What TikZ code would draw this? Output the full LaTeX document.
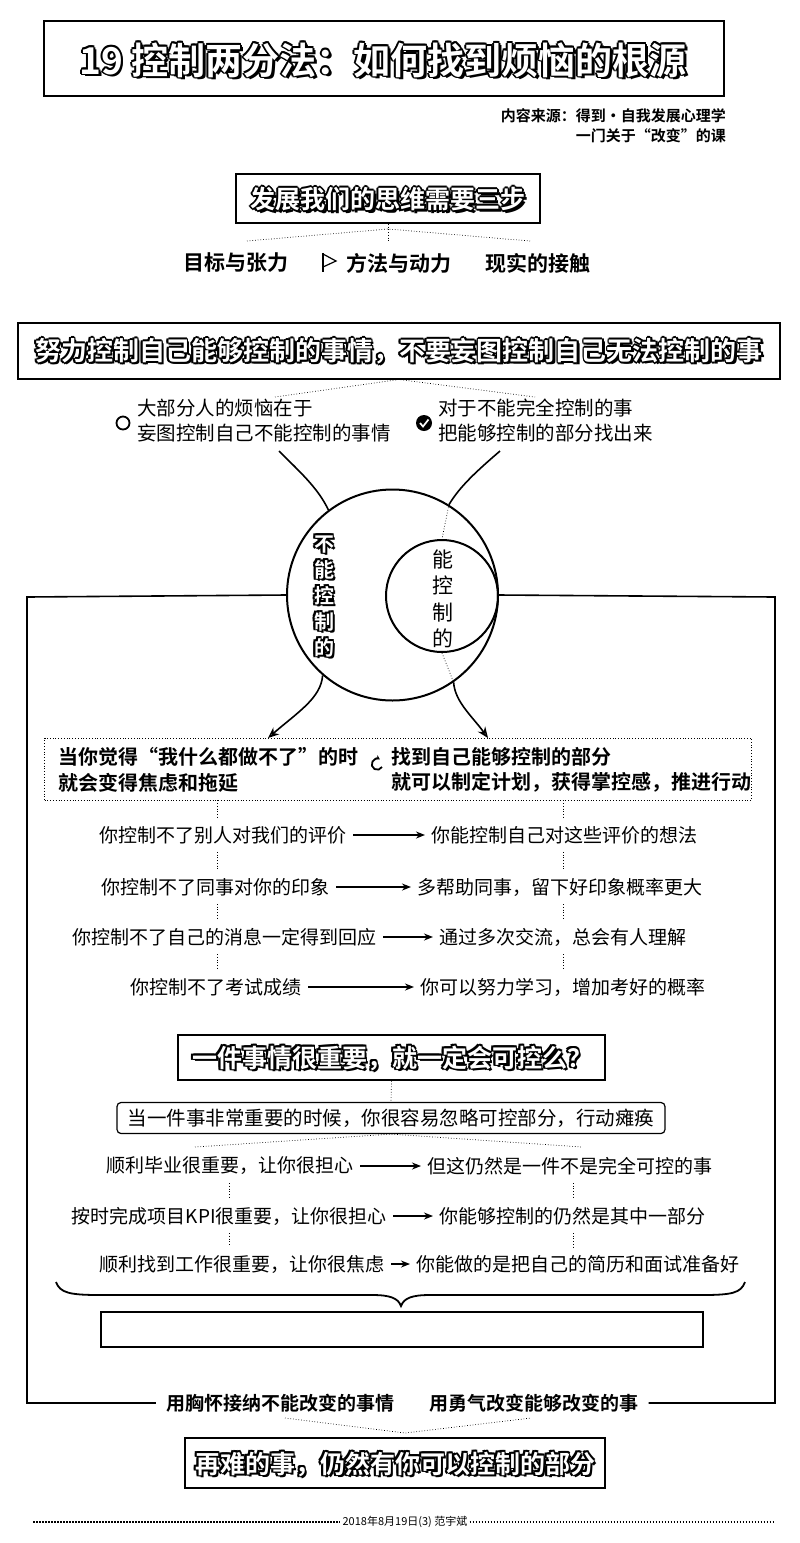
\documentclass[tikz,border=0pt]{standalone}
\usepackage{fontspec}
\setmainfont{Noto Sans CJK SC}[BoldFont={Noto Sans CJK SC Bold}]
\usepackage{tikz}
\usetikzlibrary{calc,positioning,arrows.meta}
% white letters with a black rim and a small shadow
\newcommand{\hollowtext}[4]{%
  \foreach \dx/\dy in {2.6/2.6,1.7/0,-1.7/0,0/1.7,0/-1.7,1.2/1.2,-1.2/1.2,1.2/-1.2,-1.2/-1.2}
    \node[font=#3\bfseries,align=center,inner sep=0pt] at ($#2+(\dx,\dy)$) {#4};
  \node[font=#3\bfseries,align=center,inner sep=0pt,text=white] (#1) at #2 {#4};}

\begin{document}
\begin{tikzpicture}[x=1pt,y=-1pt,
    frame/.style={draw,line width=2pt,inner sep=0pt},
    dotline/.style={dotted,line width=0.7pt},
    item/.style={font=\fontsize{21}{21}\selectfont\bfseries,inner sep=0pt},
    bubble/.style={font=\fontsize{19.5}{25}\selectfont,align=left,inner sep=0pt},
    boxtext/.style={font=\fontsize{20}{25.5}\selectfont\bfseries,align=left,inner sep=0pt},
    rowtext/.style={font=\fontsize{19}{19}\selectfont,inner xsep=6pt,inner ysep=8pt},
    bottomtext/.style={font=\fontsize{19}{19}\selectfont\bfseries,inner xsep=10pt,inner ysep=2pt},
    link/.style={line width=1.6pt,-{Stealth[length=9pt,width=7pt]}},
    wire/.style={line width=1.6pt}]
  \useasboundingbox (0,0) rectangle (800,1543);
  % title
  \node[frame,line width=2.4pt,minimum width=680pt,minimum height=75pt] (titlebox) at (384,58.5) {};
  \hollowtext{title}{(383,60)}{\fontsize{37}{37}\selectfont}{19 控制两分法：如何找到烦恼的根源}
  \node[anchor=north east,align=right,font=\fontsize{15}{20}\selectfont\bfseries,inner sep=0pt] (source) at (726,108)
    {内容来源：得到·自我发展心理学\\一门关于“改变”的课};
  % three steps
  \node[frame,minimum width=304pt,minimum height=49pt] (stepsbox) at (388,198.5) {};
  \hollowtext{steps}{(388,199)}{\fontsize{25}{25}\selectfont}{发展我们的思维需要三步}
  \node[item] (goal) at (236,263) {目标与张力};
  \node[item] (method) at (399,263) {方法与动力};
  \node[item] (reality) at (538,263) {现实的接触};
  \draw[line width=1.5pt] (323,253) -- (323,272);
  \draw[line width=1.2pt] (323,254) -- (336,261) -- (323,267);
  \coordinate (fork) at (388,229);
  \draw[dotline] (stepsbox.south) -- (388,242);
  \draw[dotline] (247,241) -- (fork) -- (530,241);
  % motto
  \node[frame,minimum width=762pt,minimum height=56pt] (mottobox) at (399,350.5) {};
  \hollowtext{motto}{(399,351)}{\fontsize{26}{26}\selectfont}{努力控制自己能够控制的事情，不要妄图控制自己无法控制的事}
  \draw[dotline] (275,397) -- (mottobox.south) -- (535,397);
  % two remarks
  \node[bubble,anchor=west] (worry) at (137,421) {大部分人的烦恼在于\\妄图控制自己不能控制的事情};
  \node[bubble,anchor=west] (find) at (438,421) {对于不能完全控制的事\\把能够控制的部分找出来};
  \draw[line width=1.8pt] (123,423) circle (6.5);
  \fill (424,423) circle (8);
  \draw[white,line width=1.7pt] (420,423) -- (423,426.5) -- (428.5,419.5);
  % circles
  \node[circle,draw,line width=2pt,minimum size=211pt,inner sep=0pt] (outer) at (392.5,595) {};
  \node[circle,draw,line width=2pt,minimum size=112pt,inner sep=0pt] (inner) at (442,596) {};
  \hollowtext{cannot}{(324,596)}{\fontsize{20}{26}\selectfont}{不\\能\\控\\制\\的}
  \node[font=\fontsize{21}{26.5}\selectfont,align=center,inner sep=0pt] (can) at (443,599) {能\\控\\制\\的};
  \coordinate (lstart) at (279,451);
  \coordinate (rstart) at (500,451);
  \draw[wire] (lstart) .. controls (300,472) and (318,488) .. (outer.127);
  \draw[wire] (rstart) .. controls (478,470) and (460,486) .. (outer.58);
  \draw[dotline] (outer.58) -- (inner.north);
  \draw[dotline] (inner.south) -- (outer.-55);
  % box of two ways
  \node[draw,dotted,line width=0.8pt,minimum width=707pt,minimum height=62pt] (pathbox) at (398,769) {};
  \coordinate (ltip) at (268,738);
  \coordinate (rtip) at (488,738);
  \draw[wire,-{Stealth[length=11pt,width=9pt,open]}] (outer.-131) .. controls (321,698) and (298,712) .. (ltip);
  \draw[wire,-{Stealth[length=11pt,width=9pt,open]}] (outer.-55) .. controls (455,702) and (472,716) .. (rtip);
  \node[boxtext,anchor=west] (stuck) at (58,770) {当你觉得“我什么都做不了”的时\\就会变得焦虑和拖延};
  \node[boxtext,anchor=west] (plan) at (391,770) {找到自己能够控制的部分\\就可以制定计划，获得掌控感，推进行动};
  \draw[line width=1.8pt,-{Stealth[length=4.5pt,width=5pt]}] (382,767) arc[start angle=30,end angle=300,radius=5.5];
  % side lines
  \coordinate (lcorner) at (27,597);
  \coordinate (rcorner) at (775,597);
  % what cannot / can be controlled
  \node[rowtext,anchor=east] (c1) at (353,835) {你控制不了别人对我们的评价};
  \node[rowtext,anchor=west] (d1) at (425,835) {你能控制自己对这些评价的想法};
  \node[rowtext,anchor=east] (c2) at (336,887) {你控制不了同事对你的印象};
  \node[rowtext,anchor=west] (d2) at (411,887) {多帮助同事，留下好印象概率更大};
  \node[rowtext,anchor=east] (c3) at (383,937) {你控制不了自己的消息一定得到回应};
  \node[rowtext,anchor=west] (d3) at (433,937) {通过多次交流，总会有人理解};
  \node[rowtext,anchor=east] (c4) at (308,987) {你控制不了考试成绩};
  \node[rowtext,anchor=west] (d4) at (414,987) {你可以努力学习，增加考好的概率};
  \foreach \i in {1,...,4}
    \draw[link] (c\i) -- (d\i);
  \coordinate (dl) at (217,0);
  \coordinate (dr) at (563,0);
  \draw[dotline] (pathbox.south -| dl) -- (c1.north -| dl);
  \draw[dotline] (pathbox.south -| dr) -- (d1.north -| dr);
  \foreach \a/\b in {1/2,2/3,3/4} {
    \draw[dotline] (c\a.south -| dl) -- (c\b.north -| dl);
    \draw[dotline] (d\a.south -| dr) -- (d\b.north -| dr);
  }
  % is it important
  \node[frame,minimum width=427pt,minimum height=45pt] (askbox) at (391.5,1057.5) {};
  \hollowtext{ask}{(392,1058)}{\fontsize{25}{25}\selectfont}{一件事情很重要，就一定会可控么？}
  \node[draw,line width=1.2pt,rounded corners=4pt,minimum width=548pt,minimum height=31pt,
    font=\fontsize{19.5}{19.5}\selectfont,inner sep=0pt] (ignore) at (391,1118) {当一件事非常重要的时候，你很容易忽略可控部分，行动瘫痪};
  \draw[dotline] (askbox.south) -- (ignore.north);
  \draw[dotline] (195,1147) -- (ignore.south) -- (582,1147);
  \node[rowtext,anchor=east] (e1) at (360,1166) {顺利毕业很重要，让你很担心};
  \node[rowtext,anchor=west] (f1) at (421,1166) {但这仍然是一件不是完全可控的事};
  \node[rowtext,anchor=east] (e2) at (393,1216) {按时完成项目KPI很重要，让你很担心};
  \node[rowtext,anchor=west] (f2) at (433,1216) {你能够控制的仍然是其中一部分};
  \node[rowtext,anchor=east] (e3) at (391,1264) {顺利找到工作很重要，让你很焦虑};
  \node[rowtext,anchor=west] (f3) at (410,1264) {你能做的是把自己的简历和面试准备好};
  \foreach \i in {1,2,3}
    \draw[link] (e\i) -- (f\i);
  \coordinate (el) at (229,0);
  \coordinate (er) at (573,0);
  \foreach \a/\b in {1/2,2/3} {
    \draw[dotline] (e\a.south -| el) -- (e\b.north -| el);
    \draw[dotline] (f\a.south -| er) -- (f\b.north -| er);
  }
  % brace and note
  \draw[line width=1.8pt] (56,1282) .. controls (60,1293) and (70,1295) .. (100,1295) -- (372,1295)
    .. controls (390,1295) and (398,1298) .. (401,1306) .. controls (404,1298) and (412,1295) .. (430,1295)
    -- (702,1295) .. controls (732,1295) and (741,1293) .. (745,1282);
  \node[frame,minimum width=602pt,minimum height=35pt] (note) at (402,1329.5) {};
  % closing
  \node[bottomtext] (accept) at (280,1403) {用胸怀接纳不能改变的事情};
  \node[bottomtext] (courage) at (534,1403) {用勇气改变能够改变的事};
  \draw[wire] (outer.west) -- (lcorner) |- (accept.west);
  \draw[wire] (outer.east) -- (rcorner) |- (courage.east);
  \draw[dotline] (285,1418) -- (405,1433) -- (531,1418);
  \node[frame,minimum width=420pt,minimum height=50pt] (endbox) at (395,1463) {};
  \hollowtext{ending}{(395,1464)}{\fontsize{25}{25}\selectfont}{再难的事，仍然有你可以控制的部分}
  % footer
  \node[font=\fontsize{11}{11}\selectfont,inner sep=2pt] (stamp) at (405,1522) {2018年8月19日(3) 范宇斌};
  \draw[line width=1.5pt,dash pattern=on 1.5pt off 1.5pt] (33,1522) -- (stamp.west);
  \draw[line width=1.5pt,dash pattern=on 1.5pt off 1.5pt] (stamp.east) -- (774,1522);
\end{tikzpicture}
\end{document}
